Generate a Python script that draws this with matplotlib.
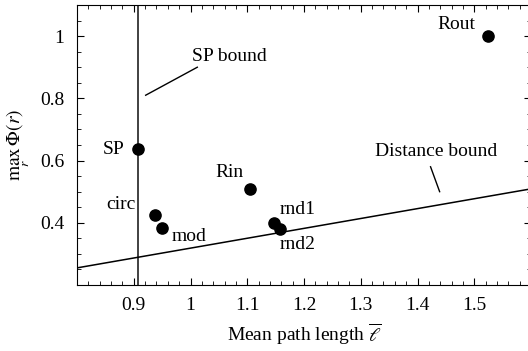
import matplotlib
matplotlib.use('Agg')
import matplotlib.pyplot as plt
from matplotlib.ticker import MultipleLocator

plt.rcParams['font.family'] = ['Liberation Serif', 'DejaVu Serif']
plt.rcParams['mathtext.fontset'] = 'stix'

# graph data
names = ['SP', 'circ', 'mod', 'Rin', 'rnd1', 'rnd2', 'Rout']
path_len = [0.907, 0.938, 0.950, 1.105, 1.148, 1.158, 1.525]
max_phi = [0.638, 0.426, 0.384, 0.510, 0.398, 0.380, 1.000]
label_pos = [(0.865, 0.635), (0.877, 0.458), (0.997, 0.355), (1.068, 0.561),
             (1.189, 0.442), (1.189, 0.329), (1.469, 1.037)]

sp_bound = 0.907
dist_x = [0.8, 1.6]
dist_y = [0.255, 0.509]

# annotation leaders
sp_lead = ([0.921, 1.012], [0.81, 0.90])
dist_lead = ([1.423, 1.439], [0.58, 0.50])

fs = 14

fig = plt.figure(figsize=(5.28, 3.51), dpi=100)
ax = fig.add_axes([77/528, 66/351, 454/528, 280/351])

ax.axvline(sp_bound, color='#333333', lw=1.3)
ax.plot(dist_x, dist_y, color='black', lw=1.1)
ax.scatter(path_len, max_phi, s=65, color='black', zorder=3)

for n, (tx, ty) in zip(names, label_pos):
    ax.text(tx, ty, n, fontsize=fs, ha='center', va='center')

ax.plot(*sp_lead, color='black', lw=1)
ax.plot(*dist_lead, color='black', lw=1)
ax.text(1.069, 0.935, 'SP bound', fontsize=fs, ha='center', va='center')
ax.text(1.432, 0.628, 'Distance bound', fontsize=fs, ha='center', va='center')

ax.set_xlim(0.8, 1.6)
ax.set_ylim(0.2, 1.1)
ax.xaxis.set_minor_locator(MultipleLocator(0.02))
ax.yaxis.set_minor_locator(MultipleLocator(0.05))
ax.set_xticks([0.9, 1.0, 1.1, 1.2, 1.3, 1.4, 1.5])
ax.set_xticklabels(['0.9', '1', '1.1', '1.2', '1.3', '1.4', '1.5'])
ax.set_yticks([0.4, 0.6, 0.8, 1.0])
ax.set_yticklabels(['0.4', '0.6', '0.8', '1'])
ax.tick_params(which='both', direction='in', top=True, right=True, labelsize=fs, pad=9)
ax.tick_params(which='major', length=5)
ax.tick_params(which='minor', length=3)

ax.set_xlabel(r'Mean path length $\overline{\ell}$', fontsize=fs, labelpad=5)
ax.set_ylabel(r'$\max_{r}\,\Phi(r)$', fontsize=fs, labelpad=6)

plt.savefig('out.png', dpi=100)
